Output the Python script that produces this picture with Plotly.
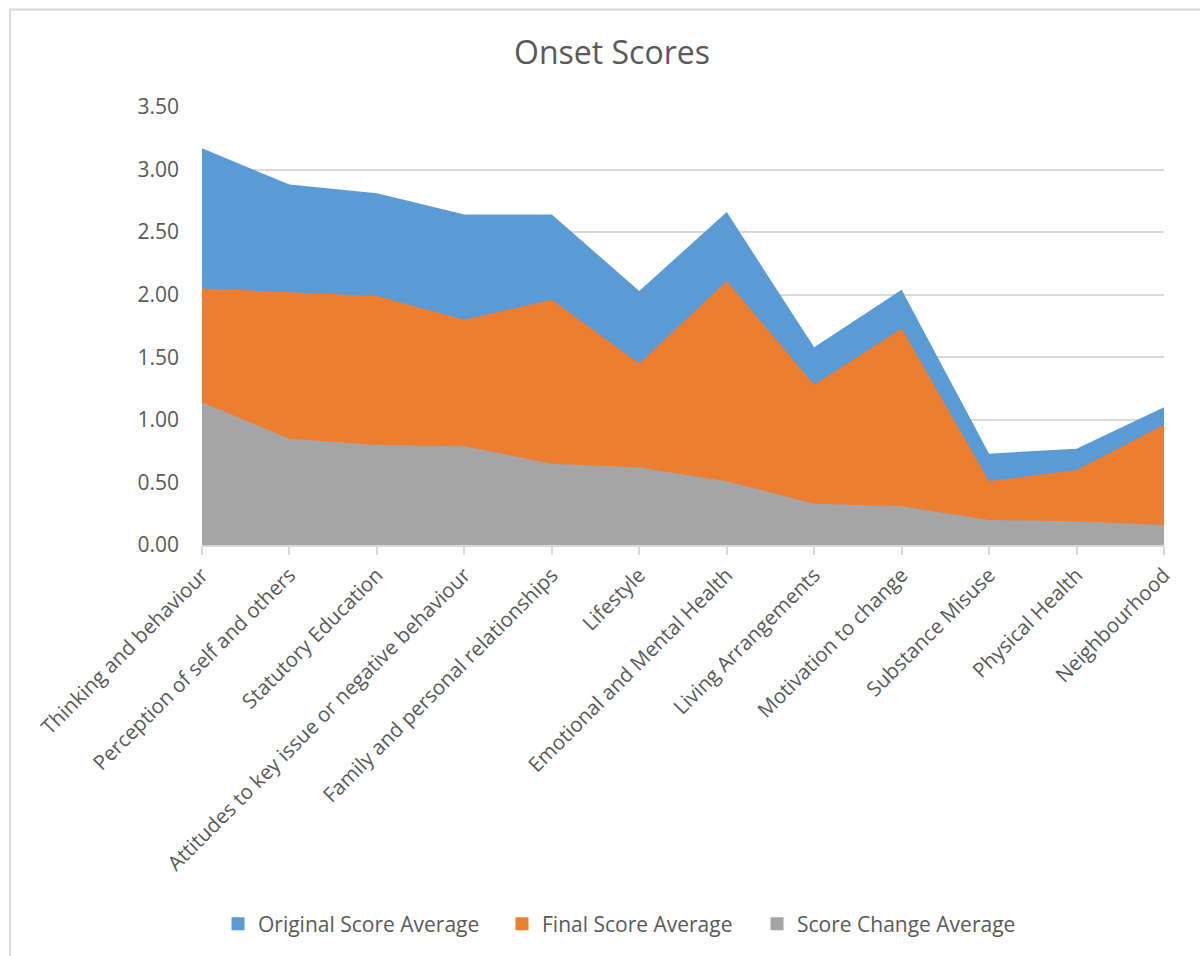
import plotly.graph_objects as go

categories = [
    "Thinking and behaviour",
    "Perception of self and others",
    "Statutory Education",
    "Attitudes to key issue or negative behaviour",
    "Family and personal relationships",
    "Lifestyle",
    "Emotional and Mental Health",
    "Living Arrangements",
    "Motivation to change",
    "Substance Misuse",
    "Physical Health",
    "Neighbourhood",
]
original_avg = [3.17, 2.88, 2.81, 2.64, 2.64, 2.03, 2.66, 1.58, 2.04, 0.73, 0.77, 1.10]
final_avg = [2.05, 2.02, 1.99, 1.80, 1.96, 1.45, 2.11, 1.28, 1.73, 0.51, 0.60, 0.96]
change_avg = [1.14, 0.85, 0.80, 0.79, 0.65, 0.62, 0.51, 0.33, 0.31, 0.20, 0.19, 0.16]

series = [
    ("Original Score Average", original_avg, "#5B9BD5"),
    ("Final Score Average", final_avg, "#ED7D31"),
    ("Score Change Average", change_avg, "#A5A5A5"),
]

FONT = "Open Sans"
TXT = "#595959"
GRID = "#D9D9D9"
W, H = 1200, 956

fig = go.Figure()
for name, vals, col in series:
    fig.add_trace(go.Scatter(
        x=categories, y=vals, name=name, mode="none",
        fill="tozeroy", fillcolor=col, showlegend=False,
    ))

# one legend per entry so spacing matches the reference
legend_ids = ["legend", "legend2", "legend3"]
legend_left_px = [218, 502, 757]
for (name, vals, col), lid in zip(series, legend_ids):
    fig.add_trace(go.Scatter(
        x=[None], y=[None], name=name, mode="markers", legend=lid,
        marker=dict(symbol="square", size=13, color=col),
    ))

# plot area geometry (pixels)
L, R, T, B = 202, 1164, 107, 545
pw, ph = R - L, B - T

def px_x(p):
    return (p - L) / pw

def px_y(p):
    return (B - p) / ph

fig.add_shape(type="rect", xref="paper", yref="paper",
              x0=px_x(10), x1=px_x(1222), y0=px_y(975), y1=px_y(9.5),
              line=dict(color=GRID, width=2), fillcolor="rgba(0,0,0,0)",
              layer="below")

legend_common = dict(orientation="h", xref="container", yref="container",
                     xanchor="left", y=1 - 924 / H, yanchor="middle",
                     font=dict(family=FONT, size=21, color=TXT),
                     bgcolor="rgba(0,0,0,0)", borderwidth=0)
legends = {lid: dict(legend_common, x=xp / W)
           for lid, xp in zip(legend_ids, legend_left_px)}

fig.update_layout(
    width=W, height=H,
    margin=dict(l=L, r=W - R, t=T, b=H - B, pad=0),
    paper_bgcolor="white", plot_bgcolor="white",
    font=dict(family=FONT, color=TXT, size=20),
    title=dict(text="Onset Scores", x=612 / W, xref="container", xanchor="center",
               y=1 - 53 / H, yref="container", yanchor="middle",
               font=dict(family=FONT, size=32, color=TXT)),
    showlegend=True,
    **legends,
)
fig.update_xaxes(
    type="category", range=[0, len(categories) - 1],
    showgrid=False, showline=True, linecolor=GRID, linewidth=2,
    ticks="outside", ticklen=8, tickcolor=GRID, tickwidth=1.5,
    tickangle=-45, ticklabelstandoff=0,
    tickfont=dict(family=FONT, size=20.5, color=TXT),
    zeroline=False,
)
fig.update_yaxes(
    range=[0, 3.5], dtick=0.5, tickformat=".2f",
    showgrid=True, gridcolor=GRID, gridwidth=1.5,
    showline=False, zeroline=False, ticks="",
    ticklabelstandoff=22,
    tickfont=dict(family=FONT, size=21, color=TXT),
)

fig.write_html("out.html",
               config={"displayModeBar": False},
               post_script="document.body.style.margin='0';document.body.style.padding='0';")
